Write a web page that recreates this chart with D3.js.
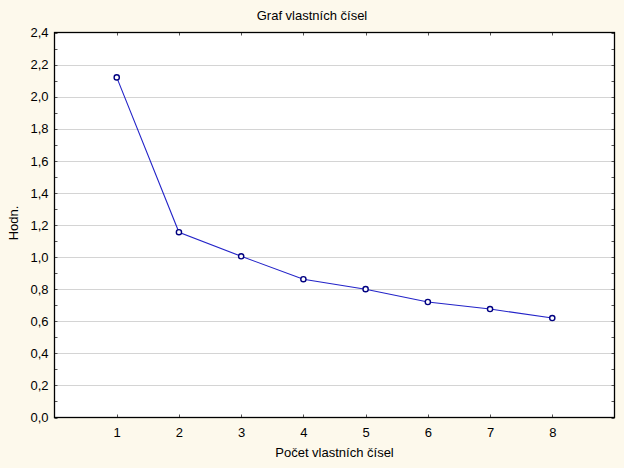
<!DOCTYPE html>
<html>
<head>
<meta charset="utf-8">
<script src="https://cdn.jsdelivr.net/npm/d3@7"></script>
<style>
html,body{margin:0;padding:0;background:#FDF9EC;}
svg{display:block;}
text{font-family:Arial,"Liberation Sans",sans-serif;font-size:13px;fill:#000;}
</style>
</head>
<body>
<svg id="chart" width="624" height="468"></svg>
<script>
const categories = [1, 2, 3, 4, 5, 6, 7, 8];
const values = [2.12, 1.155, 1.005, 0.862, 0.80, 0.72, 0.676, 0.62];
const yTicks = [0, 0.2, 0.4, 0.6, 0.8, 1.0, 1.2, 1.4, 1.6, 1.8, 2.0, 2.2, 2.4];
const yMinorTicks = [0.1, 0.3, 0.5, 0.7, 0.9, 1.1, 1.3, 1.5, 1.7, 1.9, 2.1, 2.3];
const xTicks = [1, 2, 3, 4, 5, 6, 7, 8];
const title = "Graf vlastních čísel";
const xLabel = "Počet vlastních čísel";
const yLabel = "Hodn.";

const svg = d3.select("#chart");
svg.append("rect").attr("width", 624).attr("height", 468).attr("fill", "#FDF9EC");

const m = {left: 54.5, right: 614.5, top: 32.5, bottom: 417.5};
const x = d3.scaleLinear().domain([0, 9]).range([m.left, m.right]);
const y = d3.scaleLinear().domain([0, 2.4]).range([m.bottom, m.top]);
const fmt = d => d3.format(".1f")(d).replace(".", ",");

svg.append("rect").attr("x", m.left).attr("y", m.top)
  .attr("width", m.right - m.left).attr("height", m.bottom - m.top).attr("fill", "#fff");

// grid
svg.append("g").selectAll("line").data(yTicks.slice(1, -1)).join("line")
  .attr("x1", m.left).attr("x2", m.right)
  .attr("y1", d => Math.round(y(d)) + 0.5).attr("y2", d => Math.round(y(d)) + 0.5)
  .attr("stroke", "#d4d4d4").attr("stroke-width", 1);

// left axis labels
const gl = svg.append("g").attr("transform", `translate(${m.left},0)`)
  .call(d3.axisLeft(y).tickValues(yTicks).tickFormat(fmt).tickSize(0).tickPadding(6));
gl.select(".domain").remove();
gl.selectAll("text").style("font-size", "13px").style("font-family", "Arial, 'Liberation Sans', sans-serif").attr("fill", "#000");

// bottom axis labels
const gb = svg.append("g").attr("transform", `translate(0,${m.bottom})`)
  .call(d3.axisBottom(x).tickValues(xTicks).tickFormat(d3.format("d")).tickSize(0).tickPadding(10));
gb.select(".domain").remove();
gb.selectAll("text").style("font-size", "13px").style("font-family", "Arial, 'Liberation Sans', sans-serif").attr("fill", "#000");

// inner ticks
const tk = svg.append("g").attr("stroke", "#555").attr("stroke-width", 1);
xTicks.forEach(v => {
  const xp = Math.round(x(v)) + 0.5;
  tk.append("line").attr("x1", xp).attr("x2", xp).attr("y1", m.bottom).attr("y2", m.bottom - 3);
  tk.append("line").attr("x1", xp).attr("x2", xp).attr("y1", m.top).attr("y2", m.top + 3);
});
yTicks.concat(yMinorTicks).forEach(v => {
  const yp = Math.round(y(v)) + 0.5;
  tk.append("line").attr("x1", m.left).attr("x2", m.left + 3).attr("y1", yp).attr("y2", yp);
  tk.append("line").attr("x1", m.right).attr("x2", m.right - 3).attr("y1", yp).attr("y2", yp);
});

// frame
svg.append("rect").attr("x", m.left).attr("y", m.top)
  .attr("width", m.right - m.left).attr("height", m.bottom - m.top)
  .attr("fill", "none").attr("stroke", "#000").attr("stroke-width", 1.3);

// line
const data = categories.map((c, i) => ({c, v: values[i]}));
svg.append("path").datum(data)
  .attr("d", d3.line().x(d => x(d.c)).y(d => y(d.v)))
  .attr("fill", "none").attr("stroke", "#2323c8").attr("stroke-width", 1.1);
svg.append("g").selectAll("circle").data(data).join("circle")
  .attr("cx", d => x(d.c)).attr("cy", d => y(d.v)).attr("r", 2.6)
  .attr("fill", "#fff").attr("stroke", "#000080").attr("stroke-width", 1.4);

// titles
svg.append("text").attr("x", 312).attr("y", 20).attr("text-anchor", "middle").text(title);
svg.append("text").attr("x", (m.left + m.right) / 2).attr("y", 457).attr("text-anchor", "middle").text(xLabel);
svg.append("text").attr("transform", `translate(17.5,223) rotate(-90)`)
  .attr("text-anchor", "middle").text(yLabel);
</script>
</body>
</html>
